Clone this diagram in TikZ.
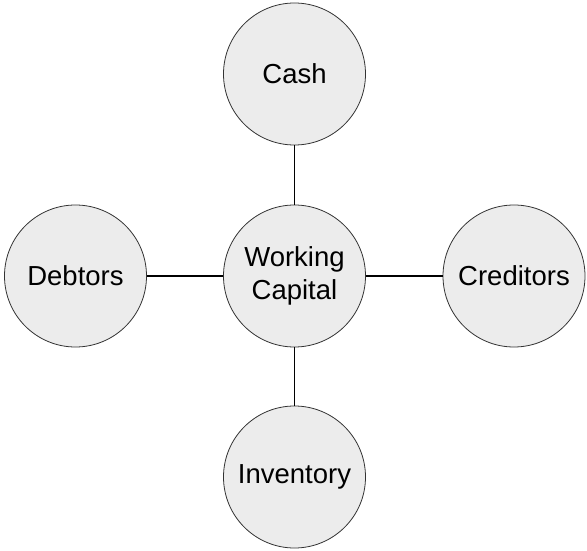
\documentclass[tikz,border=0pt]{standalone}
\usepackage{fontspec}
\setmainfont{Liberation Sans}
\begin{document}
\begin{tikzpicture}[x=1pt,y=1pt,
  bubble/.style={circle, draw=black!80, line width=0.8pt, fill=gray!15, minimum size=142pt, inner sep=0pt, align=center, font=\fontsize{27.5}{33}\selectfont},
  link/.style={line width=1.5pt, black}]
\useasboundingbox (0,0) rectangle (587,550);
\node[bubble] (wc) at (294.5,274) {Working\\Capital};
\node[bubble] (cash) at (294.5,476) {Cash};
\node[bubble] (deb) at (75.5,274) {Debtors};
\node[bubble] (cred) at (514,274) {Creditors};
\node[bubble] (inv) at (294.5,73) {Inventory};
\draw[link] (wc) -- (cash);
\draw[link] (wc) -- (deb);
\draw[link] (wc) -- (cred);
\draw[link] (wc) -- (inv);
\end{tikzpicture}
\end{document}
